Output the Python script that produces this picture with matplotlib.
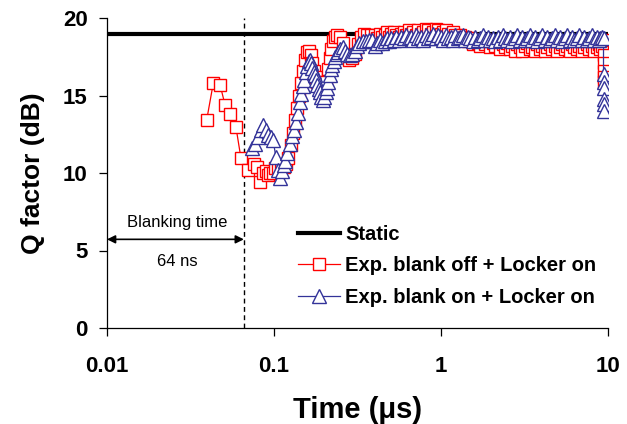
import matplotlib
matplotlib.use("Agg")
import matplotlib.pyplot as plt
from matplotlib.ticker import FixedLocator, NullLocator, FixedFormatter

plt.rcParams['font.family'] = ['Liberation Sans', 'DejaVu Sans']

# ---- data (time in microseconds, Q factor in dB) ----
static_q = 19.0
blank_time = 0.066

# early part + rise, red (blank off)
t_red_rise = [0.0395, 0.0433, 0.0475, 0.0509, 0.0545, 0.0591, 0.0633, 0.070, 0.0755, 0.079,
              0.082, 0.086, 0.089, 0.092, 0.095, 0.0985, 0.102, 0.106, 0.110, 0.114,
              0.118, 0.122, 0.126, 0.130, 0.134, 0.138, 0.142, 0.146, 0.150, 0.154,
              0.158, 0.162, 0.166, 0.170, 0.174, 0.178, 0.182, 0.186, 0.190, 0.195,
              0.200, 0.205, 0.210, 0.215, 0.220, 0.226, 0.233, 0.240, 0.250, 0.260,
              0.270, 0.280, 0.292, 0.305, 0.318, 0.332, 0.347, 0.362, 0.380]
q_red_rise = [13.4, 15.8, 15.7, 14.4, 13.8, 13.0, 11.0, 10.2, 10.6, 10.4,
              9.4, 10.0, 10.1, 9.9, 10.0, 10.0, 10.3, 10.3, 10.4, 10.4,
              10.6, 11.0, 11.8, 12.6, 13.4, 14.2, 15.0, 15.8, 16.6, 17.3,
              17.8, 17.9, 17.6, 17.1, 16.6, 16.2, 15.9, 15.6, 15.3, 15.1,
              15.3, 15.9, 16.7, 17.4, 18.0, 18.5, 18.8, 18.9, 18.8, 18.4,
              17.6, 17.3, 17.4, 17.7, 18.3, 18.8, 19.0, 18.9, 18.9]

# early part + rise, blue (blank on)
t_blue_rise = [0.0736, 0.077, 0.0805, 0.0835, 0.0862, 0.089, 0.0922, 0.0955, 0.0989, 0.1025,
               0.1055, 0.1085, 0.1115, 0.114, 0.116, 0.120, 0.124, 0.128, 0.132, 0.136,
               0.140, 0.143, 0.146, 0.149, 0.152, 0.155, 0.158, 0.161, 0.164, 0.167,
               0.170, 0.173, 0.176, 0.179, 0.182, 0.185, 0.188, 0.192, 0.196, 0.200,
               0.204, 0.208, 0.212, 0.216, 0.220, 0.224, 0.228, 0.233, 0.238, 0.243,
               0.250, 0.258, 0.266, 0.275, 0.285, 0.295, 0.305, 0.315, 0.325, 0.340,
               0.355, 0.370, 0.385]
q_blue_rise = [11.6, 11.9, 12.3, 12.8, 13.1, 12.8, 12.45, 12.3, 12.1, 11.05,
               10.2, 9.7, 10.1, 10.5, 10.8, 11.3, 11.9, 12.4, 12.8, 13.3,
               13.9, 14.6, 15.1, 15.6, 16.0, 16.5, 16.9, 17.2, 17.3, 17.1,
               16.8, 16.5, 16.3, 16.0, 15.7, 15.4, 15.2, 14.9, 14.7, 14.9,
               15.2, 15.5, 15.9, 16.3, 16.7, 17.0, 17.2, 17.5, 17.7, 17.8,
               18.0, 18.1, 17.9, 17.7, 17.6, 17.7, 17.9, 18.2, 18.4, 18.5,
               18.5, 18.6, 18.6]

# plateau times (shared by both series)
t_plateau = [0.40, 0.415, 0.43, 0.445, 0.46, 0.475, 0.49, 0.505, 0.52, 0.54,
             0.56, 0.58, 0.60, 0.62, 0.64, 0.66, 0.68, 0.705, 0.73, 0.755,
             0.78, 0.81, 0.84, 0.87, 0.90, 0.93, 0.96, 0.995, 1.03, 1.065,
             1.10, 1.14, 1.18, 1.22, 1.26, 1.305, 1.35, 1.40, 1.45, 1.50,
             1.55, 1.605, 1.66, 1.72, 1.78, 1.84, 1.90, 1.97, 2.04, 2.11,
             2.18, 2.26, 2.34, 2.42, 2.50, 2.59, 2.68, 2.77, 2.87, 2.97,
             3.07, 3.18, 3.29, 3.40, 3.52, 3.64, 3.77, 3.90, 4.04, 4.18,
             4.32, 4.47, 4.63, 4.79, 4.96, 5.13, 5.31, 5.50, 5.69, 5.89,
             6.09, 6.30, 6.52, 6.75, 6.98, 7.23, 7.48, 7.74, 8.01, 8.29,
             8.57, 8.80, 9.0, 9.2]
q_red_plateau = [18.9, 18.7, 19.0, 18.8, 18.9, 19.1, 18.8, 19.0, 19.1, 18.9,
                 18.8, 19.0, 19.1, 18.9, 19.2, 19.0, 19.1, 18.9, 19.2, 19.0,
                 19.1, 19.3, 19.2, 19.0, 19.1, 19.3, 19.2, 19.0, 19.1, 19.2,
                 19.0, 18.8, 19.1, 18.9, 18.7, 18.9, 18.6, 18.8, 18.5, 18.7,
                 18.3, 18.6, 18.4, 18.2, 18.5, 18.3, 18.6, 18.1, 18.4, 18.2,
                 18.5, 18.0, 18.3, 18.1, 18.4, 18.0, 18.2, 17.9, 18.3, 18.1,
                 17.9, 18.2, 18.4, 18.0, 18.1, 17.9, 18.3, 18.0, 18.2, 17.9,
                 18.1, 18.3, 18.0, 18.2, 17.9, 18.1, 18.3, 18.0, 18.2, 17.9,
                 18.3, 18.1, 18.0, 18.2, 17.9, 18.1, 18.3, 18.0, 18.2, 17.9,
                 18.1, 18.3, 18.0, 18.2]
q_blue_plateau = [18.2, 18.4, 18.6, 18.4, 18.5, 18.7, 18.5, 18.7, 18.6, 18.8,
                  18.6, 18.8, 18.7, 18.9, 18.7, 18.8, 18.6, 18.9, 18.7, 18.8,
                  18.6, 18.9, 18.7, 18.8, 19.0, 18.7, 18.9, 18.8, 18.6, 18.9,
                  18.7, 18.8, 18.6, 18.9, 18.7, 18.8, 18.9, 18.6, 18.8, 18.7,
                  18.5, 18.8, 18.6, 18.7, 18.9, 18.6, 18.8, 18.6, 18.7, 18.5,
                  18.8, 18.6, 18.9, 18.7, 18.6, 18.8, 18.5, 18.7, 18.9, 18.6,
                  18.8, 18.6, 18.7, 18.9, 18.6, 18.8, 18.5, 18.7, 18.9, 18.6,
                  18.8, 18.6, 18.7, 18.9, 18.6, 18.8, 18.5, 18.7, 18.9, 18.6,
                  18.8, 18.6, 18.7, 18.9, 18.6, 18.8, 18.6, 18.7, 18.9, 18.6,
                  18.8, 18.6, 18.7, 18.8]

# last time step (~9.4 us): drop in Q
t_red_end = [9.4, 9.4, 9.4, 9.4, 9.4, 9.4]
q_red_end = [18.6, 17.6, 17.1, 16.6, 16.2, 15.9]
t_blue_end = [9.4, 9.4, 9.4, 9.4, 9.4, 9.4, 9.4]
q_blue_end = [18.7, 16.4, 15.9, 15.5, 14.8, 14.45, 14.0]

x_ticks = [0.01, 0.1, 1, 10]
x_tick_labels = ["0.01", "0.1", "1", "10"]
y_ticks = [0, 5, 10, 15, 20]

t_red = t_red_rise + t_plateau + t_red_end
q_red = q_red_rise + q_red_plateau + q_red_end
t_blue = t_blue_rise + t_plateau + t_blue_end
q_blue = q_blue_rise + q_blue_plateau + q_blue_end

red = '#FF0000'
blue = '#333399'

fig = plt.figure(figsize=(6.27, 4.24), dpi=100)
ax = fig.add_axes([107/627, 1-328/424, (608-107)/627, (328-18)/424])

ax.axhline(static_q, color='black', lw=3.0, label='Static', zorder=2)
ax.plot(t_red, q_red, color=red, lw=0.9, marker='s', ms=8.5, mfc='white',
        mec=red, mew=1.0, label='Exp. blank off + Locker on', zorder=3)
ax.plot(t_blue, q_blue, color=blue, lw=0.9, marker='^', ms=10, mfc='white',
        mec=blue, mew=1.0, label='Exp. blank on + Locker on', zorder=4)

ax.axvline(blank_time, color='black', lw=1.0, ls=(0, (3.5, 2.5)), zorder=1)
ax.annotate('', xy=(0.01, 5.72), xytext=(blank_time, 5.72),
            arrowprops=dict(arrowstyle='<|-|>', color='black', lw=1.2,
                            mutation_scale=12, shrinkA=0, shrinkB=0))
ax.text(0.0263, 6.8, 'Blanking time', ha='center', va='center', fontsize=12)
ax.text(0.0263, 4.32, '64 ns', ha='center', va='center', fontsize=12)

ax.set_xscale('log')
ax.set_xlim(0.01, 10)
ax.set_ylim(0, 20)
ax.xaxis.set_major_locator(FixedLocator(x_ticks))
ax.xaxis.set_major_formatter(FixedFormatter(x_tick_labels))
ax.xaxis.set_minor_locator(NullLocator())
ax.set_yticks(y_ticks)

for s in ['top', 'right']:
    ax.spines[s].set_visible(False)
for s in ['left', 'bottom']:
    ax.spines[s].set_linewidth(0.9)
ax.tick_params(axis='both', direction='out', length=6, width=0.9,
               labelsize=16)
ax.tick_params(axis='x', pad=14)
ax.tick_params(axis='y', pad=8)
for lab in ax.get_xticklabels() + ax.get_yticklabels():
    lab.set_fontweight('bold')

ax.set_xlabel('Time (μs)', fontsize=21, fontweight='bold', labelpad=14)
ax.set_ylabel('Q factor (dB)', fontsize=19, fontweight='bold', labelpad=13)

leg = ax.legend(loc='upper left', bbox_to_anchor=(298/627, 1-225/424),
                bbox_transform=fig.transFigure, frameon=False,
                prop={'weight': 'bold', 'size': 14.5}, handlelength=2.1,
                handletextpad=0.25, labelspacing=0.62, borderpad=0,
                borderaxespad=0)

fig.savefig('out.png', dpi=100)
